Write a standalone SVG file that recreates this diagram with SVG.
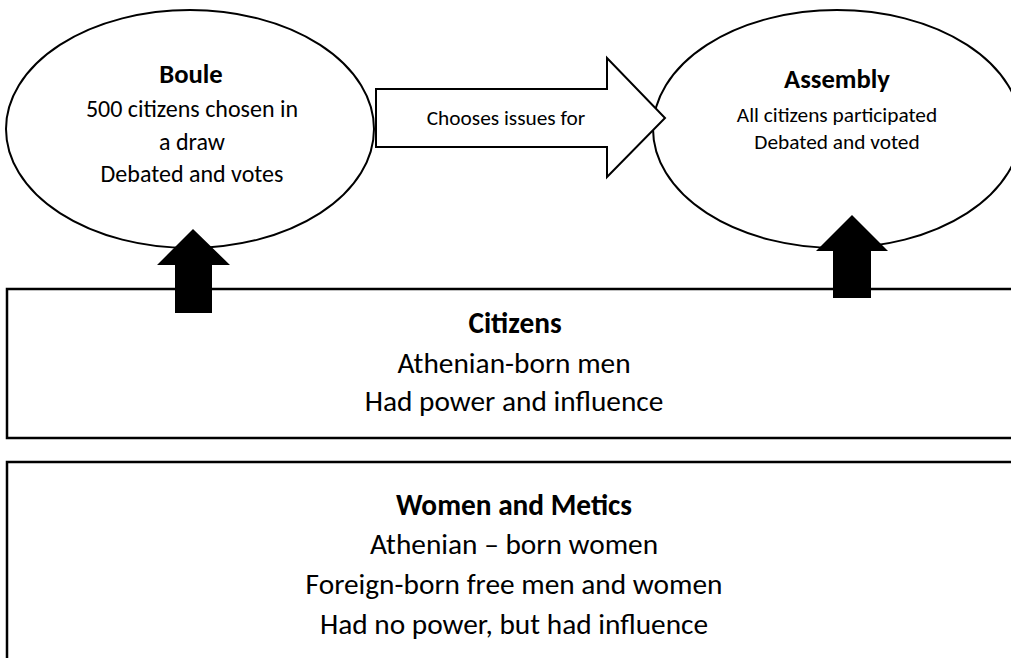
<svg xmlns="http://www.w3.org/2000/svg" width="1011" height="658" viewBox="0 0 1011 658">
<style>
.shape{fill:#fff;stroke:#000;stroke-width:2}
.box{fill:#fff;stroke:#000;stroke-width:2.5}
.solid{fill:#000;stroke:none}
text{font-family:Carlito,"Liberation Sans",sans-serif;fill:#000;text-anchor:middle}
.b{font-weight:bold}
.big{font-size:29.33px}
.mid{font-size:24px}
.sm{font-size:21.33px}
.hd{font-size:26.67px;font-weight:bold}
</style>
<rect width="1011" height="658" fill="#fff"/>
<g id="women">
<rect class="box" x="7" y="462" width="1020" height="220"/>
<text class="big b" x="514" y="515">Women and Metics</text>
<text class="big" x="514" y="554">Athenian – born women</text>
<text class="big" x="514" y="594">Foreign-born free men and women</text>
<text class="big" x="514" y="634">Had no power, but had influence</text>
</g>
<g id="citizens">
<rect class="box" x="7" y="289" width="1020" height="149"/>
<text class="big b" x="515" y="333">Citizens</text>
<text class="big" x="514" y="373">Athenian-born men</text>
<text class="big" x="514" y="411">Had power and influence</text>
</g>
<g id="boule">
<ellipse class="shape" cx="190" cy="129" rx="184" ry="119"/>
<text class="hd" x="191" y="83">Boule</text>
<text class="mid" x="192" y="117">500 citizens chosen in</text>
<text class="mid" x="192" y="150">a draw</text>
<text class="mid" x="192" y="182">Debated and votes</text>
</g>
<g id="assembly">
<ellipse class="shape" cx="837" cy="129" rx="184" ry="119"/>
<text class="hd" x="837" y="88">Assembly</text>
<text class="sm" x="837" y="122">All citizens participated</text>
<text class="sm" x="837" y="149">Debated and voted</text>
</g>
<g id="connectors">
<path class="shape" d="M376,89 H607 V58 L665,118 L607,177 V147 H376 Z"/>
<text class="sm" x="506" y="125">Chooses issues for</text>
<path class="solid" d="M175,313 V265 H157 L193,229 L230,265 H212 V313 Z"/>
<path class="solid" d="M833,298 V251 H816 L852,215 L888,251 H871 V298 Z"/>
</g>
</svg>
